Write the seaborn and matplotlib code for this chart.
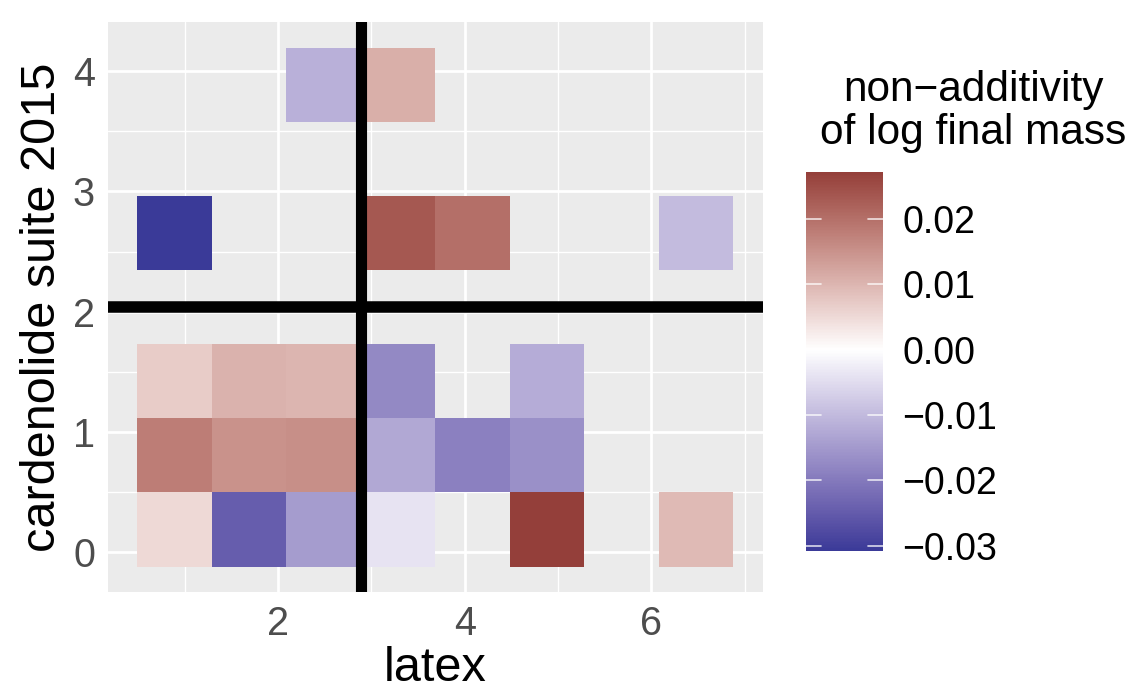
import numpy as np
import pandas as pd
import matplotlib
matplotlib.use('Agg')
import matplotlib.pyplot as plt
from matplotlib.colors import ListedColormap, to_rgb
import seaborn as sns

# -----------------------------------------------------------------------------
# Données (centres des tuiles + valeur de non-additivité)
# -----------------------------------------------------------------------------
latex_grid = [0.89, 1.69, 2.49, 3.29, 4.09, 4.89, 5.69, 6.48]
suite_grid = [0.19, 0.805, 1.42, 2.035, 2.65, 3.27, 3.885]

tile_latex = [0.89, 1.69, 2.49, 3.29, 4.89, 6.48,
              0.89, 1.69, 2.49, 3.29, 4.09, 4.89,
              0.89, 1.69, 2.49, 3.29, 4.89,
              0.89, 3.29, 4.09, 6.48,
              2.49, 3.29]
tile_suite = [0.19, 0.19, 0.19, 0.19, 0.19, 0.19,
              0.805, 0.805, 0.805, 0.805, 0.805, 0.805,
              1.42, 1.42, 1.42, 1.42, 1.42,
              2.65, 2.65, 2.65, 2.65,
              3.885, 3.885]
tile_value = [0.005, -0.0245, -0.0145, -0.004, 0.0272, 0.0095,
              0.018, 0.015, 0.0155, -0.0128, -0.019, -0.0165,
              0.007, 0.0105, 0.010, -0.0175, -0.012,
              -0.0308, 0.0235, 0.020, -0.0098,
              -0.0115, 0.011]

x_cut = 2.89   # ligne verticale
y_cut = 2.04   # ligne horizontale

cbar_ticks = [-0.03, -0.02, -0.01, 0.00, 0.01, 0.02]
cbar_labels = ['\u22120.03', '\u22120.02', '\u22120.01', '0.00', '0.01', '0.02']

# -----------------------------------------------------------------------------
# Dégradé bleu -> blanc -> rouge interpolé dans l'espace Lab (style gradient2)
# -----------------------------------------------------------------------------
WHITE_REF = np.array([0.95047, 1.0, 1.08883])
M_RGB2XYZ = np.array([[0.4124564, 0.3575761, 0.1804375],
                      [0.2126729, 0.7151522, 0.0721750],
                      [0.0193339, 0.1191920, 0.9503041]])


def hex_to_lab(col):
    c = np.array(to_rgb(col))
    lin = np.where(c <= 0.04045, c / 12.92, ((c + 0.055) / 1.055) ** 2.4)
    xyz = M_RGB2XYZ @ lin / WHITE_REF
    d = 6 / 29
    f = np.where(xyz > d ** 3, np.cbrt(xyz), xyz / (3 * d ** 2) + 4 / 29)
    return np.array([116 * f[1] - 16, 500 * (f[0] - f[1]), 200 * (f[1] - f[2])])


def lab_to_rgb(lab):
    L, a, b = lab
    fy = (L + 16) / 116
    f = np.array([fy + a / 500, fy, fy - b / 200])
    d = 6 / 29
    xyz = np.where(f > d, f ** 3, 3 * d ** 2 * (f - 4 / 29)) * WHITE_REF
    lin = np.linalg.solve(M_RGB2XYZ, xyz)
    lin = np.clip(lin, 0, 1)
    c = np.where(lin <= 0.0031308, 12.92 * lin, 1.055 * lin ** (1 / 2.4) - 0.055)
    return np.clip(c, 0, 1)


low, mid, high = hex_to_lab('#3A3A98'), hex_to_lab('#FFFFFF'), hex_to_lab('#832424')
vmin, vmax = min(tile_value), max(tile_value)
half = max(abs(vmin), abs(vmax))
t_lo, t_hi = 0.5 + vmin / (2 * half), 0.5 + vmax / (2 * half)

colors = []
for t in np.linspace(t_lo, t_hi, 256):
    if t < 0.5:
        s = t / 0.5
        colors.append(lab_to_rgb(low + (mid - low) * s))
    else:
        s = (t - 0.5) / 0.5
        colors.append(lab_to_rgb(mid + (high - mid) * s))
cmap = ListedColormap(colors)

# -----------------------------------------------------------------------------
# Table complète (grille régulière, cases vides = NaN)
# -----------------------------------------------------------------------------
df = pd.DataFrame({'latex': tile_latex, 'suite': tile_suite, 'value': tile_value})
mat = (df.pivot(index='suite', columns='latex', values='value')
         .reindex(index=suite_grid[::-1], columns=latex_grid))

# -----------------------------------------------------------------------------
# Figure
# -----------------------------------------------------------------------------
sns.set_style('darkgrid', {'axes.facecolor': '#EBEBEB', 'grid.color': 'white',
                           'text.color': 'black', 'axes.labelcolor': 'black'})
plt.rcParams['font.family'] = ['Liberation Sans', 'DejaVu Sans']

fig = plt.figure(figsize=(11.39, 6.94), dpi=100)
ax = fig.add_axes([0.0944, 0.1463, 0.5757, 0.8220])
cax = fig.add_axes([806 / 1139, 143 / 694, 77 / 1139, 379 / 694])

dx = latex_grid[1] - latex_grid[0]
dy = suite_grid[1] - suite_grid[0]
x0, x1 = latex_grid[0] - dx / 2, latex_grid[-1] + dx / 2
y0, y1 = suite_grid[0] - dy / 2, suite_grid[-1] + dy / 2
pad_x, pad_y = 0.05 * (x1 - x0), 0.05 * (y1 - y0)
ax.set_xlim(x0 - pad_x, x1 + pad_x)
ax.set_ylim(y0 - pad_y, y1 + pad_y)

hm_ax = ax.inset_axes([x0, y0, x1 - x0, y1 - y0], transform=ax.transData)
sns.heatmap(mat, ax=hm_ax, cmap=cmap, vmin=vmin, vmax=vmax,
            cbar_ax=cax, xticklabels=False, yticklabels=False)
hm_ax.set_axis_off()

ax.axvline(x_cut, color='black', linewidth=8, zorder=10)
ax.axhline(y_cut, color='black', linewidth=8.3, zorder=10)

# grille façon ggplot
ax.set_xticks([2, 4, 6])
ax.set_xticks([1, 3, 5, 7], minor=True)
ax.set_yticks([0, 1, 2, 3, 4])
ax.set_yticks([0.5, 1.5, 2.5, 3.5], minor=True)
ax.grid(which='major', color='white', linewidth=2.0)
ax.grid(which='minor', color='white', linewidth=1.0)
ax.set_axisbelow(True)
for s in ax.spines.values():
    s.set_visible(False)
ax.tick_params(which='major', length=6, width=1.5, color='#333333',
               labelcolor='#4D4D4D', labelsize=28.5, pad=3)
ax.tick_params(which='minor', length=0)
ax.set_xlabel('latex', fontsize=35, labelpad=2)
ax.set_ylabel('cardenolide suite 2015', fontsize=35, labelpad=6)

# barre de couleur
cbar = hm_ax.collections[0].colorbar
cbar.outline.set_visible(False)
cbar.set_ticks(cbar_ticks)
cbar.set_ticklabels(cbar_labels)
cbar.ax.tick_params(length=0, labelsize=27, pad=14, labelcolor='black')
for t in cbar_ticks:
    cax.axhline(t, xmin=0, xmax=0.2, color='white', linewidth=1.2, alpha=0.8)
    cax.axhline(t, xmin=0.8, xmax=1, color='white', linewidth=1.2, alpha=0.8)

fig.text(973 / 1139, 0.8393, 'non\u2212additivity\nof log final mass',
         ha='center', va='center', fontsize=30.5, linespacing=1.1)

fig.savefig('out.png', dpi=100)
plt.close(fig)
